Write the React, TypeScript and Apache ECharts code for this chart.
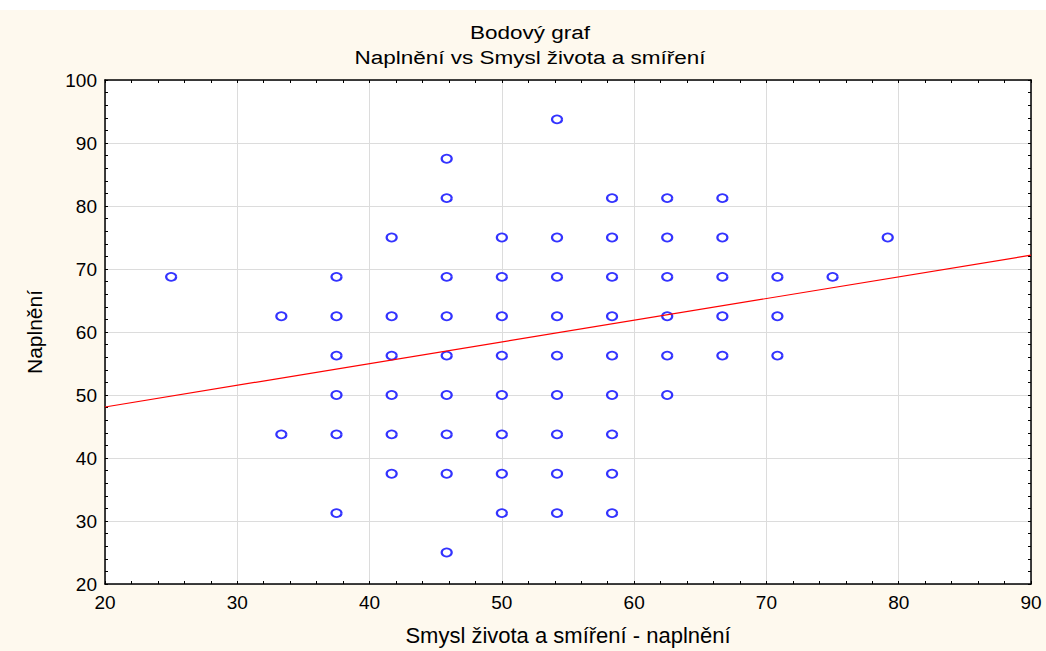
import React, { useEffect, useRef } from "react";
import * as echarts from "echarts";

const titleLines = ["Bodový graf", "Naplnění vs Smysl života a smíření"];
const xName = "Smysl života a smíření - naplnění";
const yName = "Naplnění";

// scatter points: x, y, multiplicity (overlapping observations)
const pointX = [
  25,
  33.33, 33.33,
  37.5, 37.5, 37.5, 37.5, 37.5, 37.5,
  41.67, 41.67, 41.67, 41.67, 41.67, 41.67,
  45.83, 45.83, 45.83, 45.83, 45.83, 45.83, 45.83, 45.83, 45.83,
  50, 50, 50, 50, 50, 50, 50, 50,
  54.17, 54.17, 54.17, 54.17, 54.17, 54.17, 54.17, 54.17, 54.17,
  58.33, 58.33, 58.33, 58.33, 58.33, 58.33, 58.33, 58.33, 58.33,
  62.5, 62.5, 62.5, 62.5, 62.5, 62.5,
  66.67, 66.67, 66.67, 66.67, 66.67,
  70.83, 70.83, 70.83,
  75,
  79.17,
];
const pointY = [
  68.75,
  62.5, 43.75,
  68.75, 62.5, 56.25, 50, 43.75, 31.25,
  75, 62.5, 56.25, 50, 43.75, 37.5,
  87.5, 81.25, 68.75, 62.5, 56.25, 50, 43.75, 37.5, 25,
  75, 68.75, 62.5, 56.25, 50, 43.75, 37.5, 31.25,
  93.75, 75, 68.75, 62.5, 56.25, 50, 43.75, 37.5, 31.25,
  81.25, 75, 68.75, 62.5, 56.25, 50, 43.75, 37.5, 31.25,
  81.25, 75, 68.75, 62.5, 56.25, 50,
  81.25, 75, 68.75, 62.5, 56.25,
  68.75, 62.5, 56.25,
  68.75,
  75,
];
const pointN = [
  1,
  2, 1,
  2, 2, 2, 1, 2, 1,
  1, 2, 2, 1, 2, 1,
  1, 1, 2, 1, 2, 2, 2, 2, 2,
  2, 2, 2, 2, 2, 1, 2, 1,
  1, 1, 2, 2, 2, 2, 2, 1, 1,
  1, 2, 2, 2, 2, 2, 1, 1, 1,
  2, 2, 2, 2, 2, 2,
  1, 2, 1, 1, 1,
  1, 2, 2,
  1,
  1,
];

// fitted regression line end points
const fitX = [20, 90];
const fitY = [48.1, 72.2];

const xMin = 20, xMax = 90, xStep = 10;
const yMin = 20, yMax = 100, yStep = 10;

const FONT = "Liberation Sans";

export default function App() {
  const ref = useRef<HTMLDivElement>(null);
  useEffect(() => {
    if (!ref.current) return;
    const chart = echarts.init(ref.current, undefined, { renderer: "svg" });
    const scatterData = pointX.map((x, i) => ({
      value: [x, pointY[i]],
      itemStyle: { borderWidth: pointN[i] > 1 ? 2.8 : 1.8 },
    }));
    const frameAxis = {
      axisLine: { show: true, lineStyle: { color: "#000", width: 1.5 } },
      axisTick: { show: true, inside: true, length: 3, lineStyle: { color: "#000" } },
      minorTick: { show: true, splitNumber: 5, length: 3, lineStyle: { color: "#000" } },
    };
    chart.setOption({
      animation: false,
      backgroundColor: "#FEF9EE",
      graphic: [
        { type: "rect", left: 0, top: 0, shape: { width: 1046, height: 10 }, style: { fill: "#fff" }, silent: true },
        ...titleLines.map((t, i) => ({
          type: "text",
          x: 530,
          y: 33 + i * 25,
          scaleX: 1.25,
          silent: true,
          style: {
            text: t,
            align: "center",
            verticalAlign: "middle",
            fontFamily: FONT,
            fontSize: 18,
            fill: "#000",
          },
        })),
      ],
      grid: { left: 105, right: 15, top: 80, bottom: 65, show: true, backgroundColor: "#fff", borderWidth: 0 },
      xAxis: [
        {
          type: "value", min: xMin, max: xMax, interval: xStep,
          name: xName, nameLocation: "middle", nameGap: 40,
          nameTextStyle: { fontFamily: FONT, fontSize: 22, color: "#000" },
          axisLabel: { fontFamily: FONT, fontSize: 19, color: "#000", margin: 9 },
          splitLine: { show: true, lineStyle: { color: "#dcdcdc", width: 1 } },
          ...frameAxis,
        },
        {
          type: "value", min: xMin, max: xMax, interval: xStep, position: "top",
          axisLabel: { show: false }, splitLine: { show: false },
          ...frameAxis,
        },
      ],
      yAxis: [
        {
          type: "value", min: yMin, max: yMax, interval: yStep,
          name: yName, nameLocation: "middle", nameGap: 60, nameRotate: 90,
          nameTextStyle: { fontFamily: FONT, fontSize: 21, color: "#000" },
          axisLabel: { fontFamily: FONT, fontSize: 19, color: "#000", margin: 8 },
          splitLine: { show: true, lineStyle: { color: "#dcdcdc", width: 1 } },
          ...frameAxis,
        },
        {
          type: "value", min: yMin, max: yMax, interval: yStep, position: "right",
          axisLabel: { show: false }, splitLine: { show: false },
          ...frameAxis,
        },
      ],
      series: [
        {
          type: "scatter",
          symbol: "emptyCircle",
          symbolSize: [10, 8],
          itemStyle: { color: "#0000ff", borderColor: "#0000ff" },
          data: scatterData,
          z: 2,
        },
        {
          type: "line",
          data: fitX.map((x, i) => [x, fitY[i]]),
          showSymbol: false,
          symbol: "none",
          lineStyle: { color: "#ff0000", width: 1.2 },
          z: 3,
        },
      ],
    });
    return () => chart.dispose();
  }, []);
  return (
    <div
      ref={ref}
      style={{ position: "fixed", left: 0, top: 0, width: 1046, height: 651 }}
    />
  );
}
